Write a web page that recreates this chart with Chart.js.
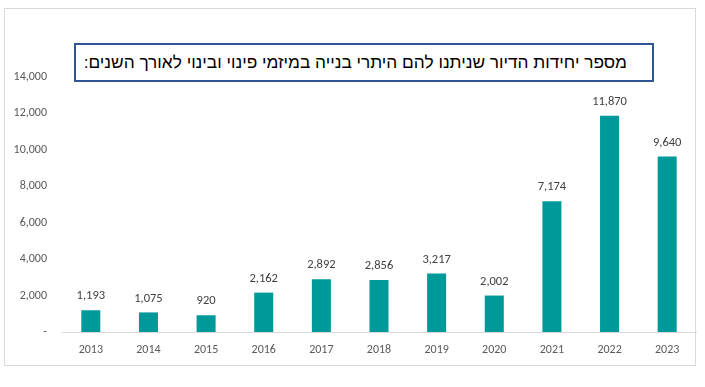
<!DOCTYPE html>
<html>
<head>
<meta charset="utf-8">
<script src="https://cdn.jsdelivr.net/npm/chart.js@4.4.0/dist/chart.umd.min.js"></script>
<style>
  html, body { margin: 0; padding: 0; background: #fff; }
  #wrap { position: relative; width: 705px; height: 387px; }
  #frame { position: absolute; left: 4px; top: 8px; width: 692px; height: 358px; border: 1px solid #d9d9d9; box-sizing: border-box; }
  #titleBox {
    position: absolute; left: 74px; top: 43px; width: 580px; height: 39px;
    border: 2px solid #2f5597; box-sizing: border-box; background: #fff;
    font-family: Arial, "Liberation Sans", sans-serif; font-size: 17.3px; color: #000;
    direction: rtl; text-align: right; padding-right: 25px; line-height: 35px; white-space: nowrap;
  }
  canvas { position: absolute; left: 0; top: 0; }
</style>
</head>
<body>
<div id="wrap">
  <div id="frame"></div>
  <canvas id="unitsChart" width="705" height="387"></canvas>
  <div id="titleBox">מספר יחידות הדיור שניתנו להם היתרי בנייה במיזמי פינוי ובינוי לאורך השנים:</div>
</div>
<script>
// dati del grafico
const years = ['2013', '2014', '2015', '2016', '2017', '2018', '2019', '2020', '2021', '2022', '2023'];
const units = [1193, 1075, 920, 2162, 2892, 2856, 3217, 2002, 7174, 11870, 9640];
const yMax = 14000;
const yStep = 2000;

const fontFam = 'Calibri, Carlito, Lato, sans-serif';

// etichette sopra le barre
const barLabels = {
    id: 'barLabels',
    afterDatasetsDraw(chart) {
        const ctx = chart.ctx;
        const meta = chart.getDatasetMeta(0);
        ctx.save();
        ctx.font = '12.5px ' + fontFam;
        ctx.fillStyle = '#404040';
        ctx.textAlign = 'center';
        ctx.textBaseline = 'middle';
        meta.data.forEach((bar, i) => {
            ctx.fillText(units[i].toLocaleString('en-US'), bar.x, bar.y - 14);
        });
        ctx.restore();
    }
};

const ctx = document.getElementById('unitsChart').getContext('2d');
const unitsChart = new Chart(ctx, {
    type: 'bar',
    data: {
        labels: years,
        datasets: [{
            data: units,
            backgroundColor: '#009999',
            borderWidth: 0,
            categoryPercentage: 1,
            barPercentage: 0.33
        }]
    },
    options: {
        responsive: false,
        animation: false,
        layout: { padding: { left: 0, right: 9, top: 77, bottom: 30 } },
        plugins: { legend: { display: false }, tooltip: { enabled: false } },
        scales: {
            x: {
                grid: { display: false, drawTicks: false },
                border: { display: true, color: '#d9d9d9', width: 1 },
                ticks: { color: '#595959', font: { family: fontFam, size: 12 }, padding: 11, maxRotation: 0 },
                afterFit: s => { s.height = 25; }
            },
            y: {
                min: 0,
                max: yMax,
                grid: { display: false, drawTicks: false },
                border: { display: false },
                ticks: {
                    stepSize: yStep,
                    color: '#595959',
                    font: { family: fontFam, size: 12 },
                    padding: 15,
                    callback: v => v === 0 ? '-' : v.toLocaleString('en-US')
                },
                afterFit: s => { s.width = 62; }
            }
        }
    },
    plugins: [barLabels]
});
</script>
</body>
</html>
